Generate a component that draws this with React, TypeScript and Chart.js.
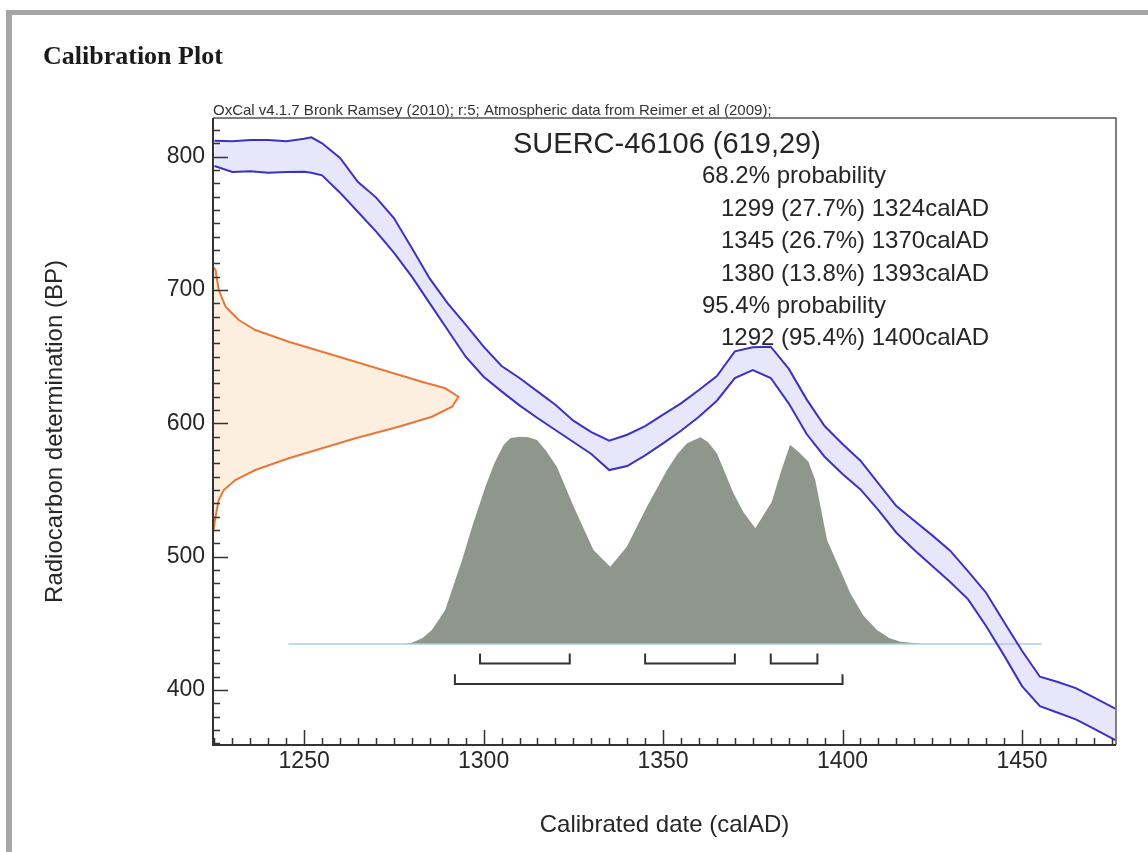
import React, { useEffect, useRef } from 'react';
import { Chart, registerables } from 'chart.js';

Chart.register(...registerables);

// ---- axis ranges & tick labels ----
const X_MIN = 1224.6;
const X_MAX = 1476.2;
const Y_MIN = 358.8;
const Y_MAX = 829;
const xTickLabels = [1250, 1300, 1350, 1400, 1450];
const yTickLabels = [400, 500, 600, 700, 800];

// ---- calibration curve (IntCal09 band, BP) ----
const curveYears = [1225, 1230, 1235, 1240, 1245, 1250, 1252, 1255, 1260, 1265, 1270, 1275, 1280, 1285, 1290, 1295, 1300, 1305, 1310, 1315, 1320, 1325, 1330, 1335, 1340, 1345, 1350, 1355, 1360, 1365, 1370, 1375, 1380, 1385, 1390, 1395, 1400, 1405, 1410, 1415, 1420, 1425, 1430, 1435, 1440, 1445, 1450, 1455, 1460, 1465, 1470, 1476];
const curveUpper = [812, 811.5, 812.5, 812.5, 811.5, 813.5, 814.5, 810, 799, 781, 769.5, 754, 731.5, 708.5, 690, 674, 657.5, 643, 634, 624, 614, 602, 593.5, 587, 591.5, 598, 606.5, 615, 625, 635.5, 654, 657, 657.5, 641, 618, 598, 584.5, 572, 555, 538, 527, 516, 504.5, 489, 473, 451, 429.5, 410, 406, 401.5, 394.5, 386];
const curveLower = [793, 788.5, 789, 788, 788.5, 788.7, 788, 786, 773, 758.5, 744, 728, 710, 690, 670, 650, 635, 624, 613.5, 604, 595, 586, 577, 565, 568, 576, 585, 594.5, 605, 617, 634, 640, 634, 615, 592, 575, 562, 550.5, 535, 518, 505, 493, 481, 468, 448, 426, 403, 388, 383, 378, 371, 362.5];

// ---- radiocarbon measurement 619±29 BP (drawn on the y axis) ----
const measBP = [717.5, 715, 700, 687.5, 677.5, 670, 661.2, 653.7, 646.2, 638.7, 631.2, 626.3, 620, 612.5, 605, 597.5, 588.8, 581.3, 573.8, 565, 557.5, 550, 542.5, 530, 517.5];
const measYear = [1224.6, 1225.3, 1226.2, 1228.1, 1231.8, 1236.4, 1245.7, 1255, 1264.3, 1273.5, 1282.8, 1289.3, 1293, 1291.2, 1285.6, 1276.3, 1264.3, 1255, 1245.7, 1236.4, 1230.8, 1227.6, 1226.2, 1225.3, 1224.6];

// ---- calibrated date distribution ----
const DIST_BASE = 434.5;
const distYears = [1278, 1280, 1283, 1285.6, 1289.3, 1294, 1296.8, 1300.5, 1303, 1305.6, 1307.5, 1310.2, 1312.5, 1314.9, 1317.5, 1320.4, 1325.1, 1330.6, 1335.3, 1339.9, 1345.5, 1351.1, 1354, 1356.7, 1360.4, 1362.5, 1365, 1369.6, 1372.5, 1375.7, 1380.3, 1383, 1385.4, 1388, 1390.5, 1392.4, 1395.7, 1402.2, 1405.8, 1409.6, 1413, 1416.1, 1422.6];
const distTop = [434.5, 435.5, 439, 445, 460, 497.5, 522.5, 552.5, 570, 584, 589, 590, 589.5, 587.5, 579, 567.5, 537.5, 505, 492.5, 507.5, 537.5, 565, 577, 585, 589.5, 586, 577.5, 547.5, 533, 521.3, 541.2, 565, 584, 578, 571.2, 557.5, 512.5, 472.5, 456, 445, 439, 436.2, 434.5];
const baselineYears = [1245.6, 1455.5];

// ---- probability ranges ----
const range68 = [[1299, 1324], [1345, 1370], [1380, 1393]];
const range95 = [[1292, 1400]];
const BRACKET68 = [420, 427.5];
const BRACKET95 = [404.5, 411.8];

// ---- texts ----
const chartTitle = 'Calibration Plot';
const noteText = 'OxCal v4.1.7 Bronk Ramsey (2010); r:5; Atmospheric data from Reimer et al (2009);';
const sampleLabel = 'SUERC-46106 (619,29)';
const legendLines: [string, number][] = [
  ['68.2% probability', 0],
  ['1299 (27.7%) 1324calAD', 1],
  ['1345 (26.7%) 1370calAD', 1],
  ['1380 (13.8%) 1393calAD', 1],
  ['95.4% probability', 0],
  ['1292 (95.4%) 1400calAD', 1],
];

const SANS = '"Liberation Sans", Arial, sans-serif';
const TEXT = '#262626';

function bracket(r: number[], lv: number[]) {
  return [
    { x: r[0], y: lv[1] },
    { x: r[0], y: lv[0] },
    { x: r[1], y: lv[0] },
    { x: r[1], y: lv[1] },
  ];
}

const decor = {
  id: 'decor',
  beforeDraw(chart: any) {
    const { ctx, width, height } = chart;
    ctx.save();
    ctx.fillStyle = '#ffffff';
    ctx.fillRect(0, 0, width, height);
    ctx.fillStyle = '#a6a6a6';
    ctx.fillRect(6, 10, 6, height - 10);
    ctx.fillRect(6, 10, width - 6, 5);
    ctx.restore();
  },
  beforeDatasetsDraw(chart: any) {
    const { ctx } = chart;
    ctx.save();
    ctx.fillStyle = TEXT;
    ctx.textBaseline = 'alphabetic';
    ctx.textAlign = 'left';
    ctx.font = `29px ${SANS}`;
    ctx.fillText(sampleLabel, 513, 153);
    ctx.font = `24px ${SANS}`;
    legendLines.forEach(([t, indent], i) => {
      ctx.fillText(t, indent ? 721 : 702, 183.3 + i * 32.4);
    });
    ctx.restore();
  },
  afterDatasetsDraw(chart: any) {
    const { ctx, chartArea: a, scales } = chart;
    const xs = scales.x;
    const ys = scales.y;
    ctx.save();
    // titles
    ctx.fillStyle = '#1a1a1a';
    ctx.font = `bold 26px "Liberation Serif", "Times New Roman", serif`;
    ctx.textAlign = 'left';
    ctx.textBaseline = 'alphabetic';
    ctx.fillText(chartTitle, 43, 64);
    ctx.fillStyle = '#333';
    ctx.font = `15px ${SANS}`;
    ctx.fillText(noteText, a.left, a.top - 3);

    // box top/right
    ctx.strokeStyle = '#555';
    ctx.lineWidth = 1.5;
    ctx.beginPath();
    ctx.moveTo(a.left, a.top);
    ctx.lineTo(a.right, a.top);
    ctx.lineTo(a.right, a.bottom);
    ctx.stroke();
    // axes
    ctx.strokeStyle = '#333';
    ctx.lineWidth = 2;
    ctx.beginPath();
    ctx.moveTo(a.left, a.top);
    ctx.lineTo(a.left, a.bottom);
    ctx.lineTo(a.right, a.bottom);
    ctx.stroke();
    // ticks (inward)
    ctx.lineWidth = 1.5;
    ctx.beginPath();
    for (let v = Math.ceil(xs.min / 5) * 5; v <= xs.max; v += 5) {
      const px = Math.round(xs.getPixelForValue(v)) + 0.5;
      const len = v % 50 === 0 ? 15 : 7;
      ctx.moveTo(px, a.bottom);
      ctx.lineTo(px, a.bottom - len);
    }
    for (let v = Math.ceil(ys.min / 10) * 10; v <= ys.max; v += 10) {
      const py = Math.round(ys.getPixelForValue(v)) + 0.5;
      const len = v % 100 === 0 ? 15 : 7;
      ctx.moveTo(a.left, py);
      ctx.lineTo(a.left + len, py);
    }
    ctx.stroke();
    ctx.restore();
  },
};

export default function App() {
  const ref = useRef<HTMLCanvasElement>(null);
  useEffect(() => {
    if (!ref.current) return;
    const bandColor = '#3b32c4';
    const datasets: any[] = [
      {
        label: 'distribution',
        data: distYears.map((x, i) => ({ x, y: distTop[i] })),
        borderWidth: 0,
        borderColor: 'rgba(0,0,0,0)',
        backgroundColor: '#8f968b',
        fill: { value: DIST_BASE },
        pointRadius: 0,
        order: 10,
      },
      {
        label: 'baseline',
        data: baselineYears.map((x) => ({ x, y: DIST_BASE })),
        borderWidth: 1.5,
        borderColor: '#a7cfd8',
        fill: false,
        pointRadius: 0,
        order: 9,
      },
      {
        label: 'upper',
        data: curveYears.map((x, i) => ({ x, y: curveUpper[i] })),
        borderWidth: 2,
        borderColor: bandColor,
        fill: false,
        pointRadius: 0,
        order: 5,
      },
      {
        label: 'lower',
        data: curveYears.map((x, i) => ({ x, y: curveLower[i] })),
        borderWidth: 2,
        borderColor: bandColor,
        backgroundColor: 'rgba(200,196,244,0.42)',
        fill: '-1',
        pointRadius: 0,
        order: 5,
      },
      {
        label: 'measurement',
        data: measBP.map((y, i) => ({ x: measYear[i], y })),
        borderWidth: 2,
        borderColor: '#e8773a',
        backgroundColor: 'rgba(252,226,196,0.55)',
        fill: 'shape',
        pointRadius: 0,
        order: 4,
      },
      ...range68.map((r) => ({
        label: 'r68',
        data: bracket(r, BRACKET68),
        borderWidth: 2,
        borderColor: '#333',
        fill: false,
        pointRadius: 0,
        order: 1,
      })),
      ...range95.map((r) => ({
        label: 'r95',
        data: bracket(r, BRACKET95),
        borderWidth: 2,
        borderColor: '#333',
        fill: false,
        pointRadius: 0,
        order: 1,
      })),
    ];

    const chart = new Chart(ref.current, {
      type: 'line',
      data: { datasets },
      options: {
        animation: false,
        responsive: false,
        maintainAspectRatio: false,
        devicePixelRatio: 1,
        layout: { padding: { left: 0, top: 118, right: 32, bottom: 0 } },
        elements: { line: { tension: 0 } },
        plugins: { legend: { display: false }, tooltip: { enabled: false } },
        scales: {
          x: {
            type: 'linear',
            min: X_MIN,
            max: X_MAX,
            position: 'bottom',
            grid: { display: false, drawTicks: false, tickLength: 0 },
            border: { display: false },
            ticks: {
              autoSkip: false,
              maxRotation: 0,
              padding: 3,
              color: TEXT,
              font: { family: SANS, size: 23 },
              callback: (v: any) => String(v),
            },
            afterBuildTicks: (s: any) => {
              s.ticks = xTickLabels.map((v) => ({ value: v }));
            },
            afterFit: (s: any) => {
              s.height = 107;
            },
            title: {
              display: true,
              text: 'Calibrated date (calAD)',
              color: TEXT,
              font: { family: SANS, size: 24 },
              padding: { top: 0, bottom: 12 },
            },
          },
          y: {
            type: 'linear',
            min: Y_MIN,
            max: Y_MAX,
            grid: { display: false, drawTicks: false, tickLength: 0 },
            border: { display: false },
            ticks: {
              padding: 8,
              color: TEXT,
              font: { family: SANS, size: 23 },
              callback: (v: any) => String(v),
            },
            afterBuildTicks: (s: any) => {
              s.ticks = yTickLabels.map((v) => ({ value: v }));
            },
            afterFit: (s: any) => {
              s.width = 213;
            },
            title: {
              display: true,
              text: 'Radiocarbon determination (BP)',
              color: TEXT,
              font: { family: SANS, size: 24 },
              padding: { top: 41, bottom: 0 },
            },
          },
        },
      },
      plugins: [decor],
    } as any);
    return () => chart.destroy();
  }, []);

  return (
    <div style={{ position: 'absolute', left: 0, top: 0, width: 1148, height: 852, overflow: 'hidden', background: '#fff' }}>
      <canvas ref={ref} width={1148} height={852} style={{ display: 'block' }} />
    </div>
  );
}
